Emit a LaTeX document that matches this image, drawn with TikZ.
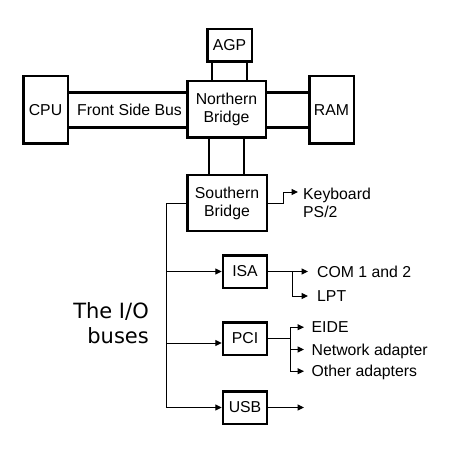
\documentclass[tikz,border=0pt]{standalone}
\usepackage{fontspec}
\setmainfont{Liberation Sans}
\newfontfamily\verd{DejaVu Sans}
\usetikzlibrary{arrows.meta,calc}
\begin{document}
\begin{tikzpicture}[x=1pt,y=-1pt,
  box/.style={draw, line width=2.5pt, inner sep=0pt, align=center,
    font=\fontsize{15.8}{18}\selectfont},
  lbl/.style={inner sep=0pt, anchor=base west, font=\fontsize{15.8}{18}\selectfont},
  bus/.style={line width=2.5pt},
  conn/.style={line width=1pt},
  arr/.style={line width=1pt, -{Triangle[length=6.5pt,width=6pt]}}]
\useasboundingbox[fill=white] (0,0) rectangle (454,454);

% boxes
\node[box, minimum width=44.5, minimum height=32.5] (AGP) at (229.5,45.5) {AGP};
\node[box, minimum width=44.5, minimum height=67.5] (CPU) at (45.5,110) {CPU};
\node[box, minimum width=78.5, minimum height=56.5] (NB) at (226.5,109.5) {Northern\\Bridge};
\node[box, minimum width=44.5, minimum height=67.5] (RAM) at (331.5,110) {RAM};
\node[box, minimum width=79.5, minimum height=55.5] (SB) at (227,203) {Southern\\Bridge};
\node[box, minimum width=44, minimum height=32.5] (ISA) at (245,271.5) {ISA};
\node[box, minimum width=44, minimum height=32.5] (PCI) at (245,338.5) {PCI};
\node[box, minimum width=44, minimum height=32.5] (USB) at (245,407.5) {USB};

% thick buses
\draw[bus] ([xshift=-17.5pt]AGP.south) -- ([xshift=-17.5pt]AGP.south |- NB.north);
\draw[bus] ([xshift=17.5pt]AGP.south) -- ([xshift=17.5pt]AGP.south |- NB.north);
\draw[bus] ([yshift=17.5pt]CPU.east) -- ([yshift=17.5pt]CPU.east -| NB.west);
\draw[bus] ([yshift=-17.5pt]CPU.east) -- ([yshift=-17.5pt]CPU.east -| NB.west);
\draw[bus] ([yshift=17.5pt]RAM.west) -- ([yshift=17.5pt]RAM.west -| NB.east);
\draw[bus] ([yshift=-17.5pt]RAM.west) -- ([yshift=-17.5pt]RAM.west -| NB.east);
\draw[bus] ([xshift=-17.5pt]NB.south) -- ([xshift=-17.5pt]NB.south |- SB.north);
\draw[bus] ([xshift=17.5pt]NB.south) -- ([xshift=17.5pt]NB.south |- SB.north);
\node[inner sep=0pt, font=\fontsize{15.8}{18}\selectfont] (FSB) at (129.5,109.5) {Front Side Bus};

% labels
\node[lbl] (kbd) at (303,199) {Keyboard};
\node[lbl] (ps2) at (303,217) {PS/2};
\node[lbl] (com) at (317,277) {COM 1 and 2};
\node[lbl] (lpt) at (317,301.5) {LPT};
\node[lbl] (eide) at (311.5,332.7) {EIDE};
\node[lbl] (net) at (311.5,355) {Network adapter};
\node[lbl] (oth) at (311.5,376.7) {Other adapters};
\node[inner sep=0pt, anchor=base east, font=\verd\fontsize{21}{25}\selectfont] (io1) at (149,318) {The I/O};
\node[inner sep=0pt, anchor=base east, font=\verd\fontsize{21}{25}\selectfont] (io2) at (149,343) {buses};

% keyboard
\coordinate (kbdturn) at (283,203);
\draw[arr] (SB.east) -- (kbdturn) |- ([shift={(-5pt,7pt)}]kbd.base west);

% I/O bus
\coordinate (busbot) at (166,407.5);
\draw[arr] (SB.west) -| (busbot) -- (USB.west);
\draw[arr] (busbot |- ISA.west) -- (ISA.west);
\draw[arr] (busbot |- 0,343) -- (PCI.west |- 0,343);

% ISA outputs
\coordinate (isab) at (292.5,271.5);
\draw[arr] (ISA.east) -- ([shift={(-9pt,5.5pt)}]com.base west);
\draw[arr] (isab) |- ([shift={(-9pt,5.5pt)}]lpt.base west);

% PCI outputs
\coordinate (pcib) at (290,338.5);
\draw[conn] (PCI.east) -- (pcib);
\draw[arr] (pcib) |- ([shift={(-7.5pt,5.5pt)}]eide.base west);
\draw[arr] (pcib) |- ([shift={(-7.5pt,5.5pt)}]oth.base west);
\draw[arr] (pcib |- 0,349.5) -- ([shift={(-7.5pt,5.5pt)}]net.base west);

% USB output
\coordinate (usbend) at (304,407.5);
\draw[arr] (USB.east) -- (usbend);
\end{tikzpicture}
\end{document}
